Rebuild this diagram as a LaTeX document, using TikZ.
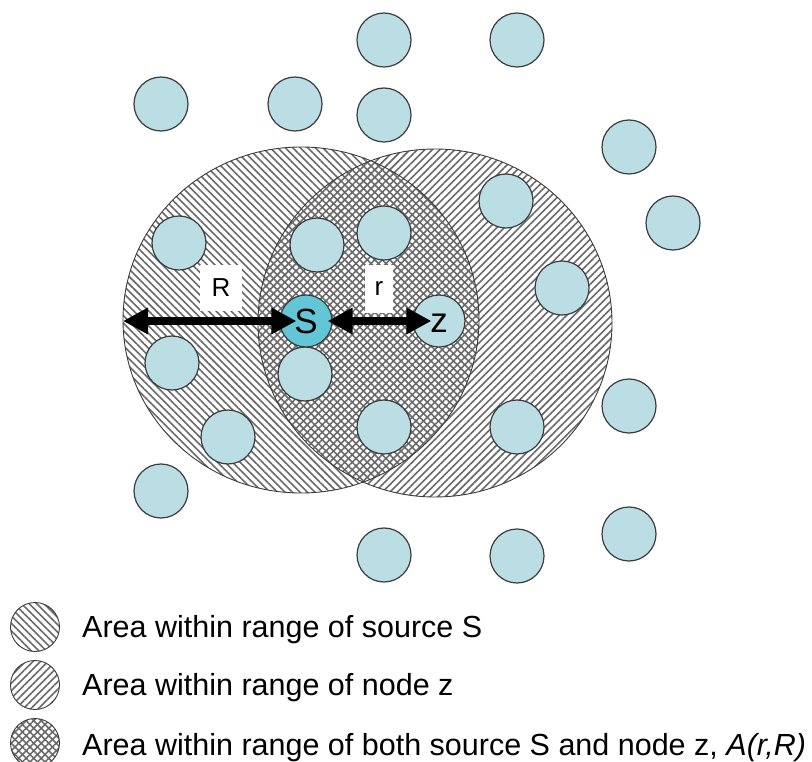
\documentclass[tikz,border=0pt]{standalone}
\usepackage{fontspec}
\setmainfont{Liberation Sans}
\usetikzlibrary{patterns.meta,arrows.meta}
\definecolor{dotfill}{RGB}{186,222,227}
\definecolor{srcfill}{RGB}{98,198,214}
\definecolor{rim}{RGB}{60,60,60}
\definecolor{hatch}{RGB}{105,105,105}
\tikzset{
  dot/.style={circle,draw=rim,line width=1.2pt,fill=dotfill,minimum size=54pt,inner sep=0pt},
  srcdot/.style={dot,fill=srcfill,minimum size=52pt},
  nwhatch/.style={pattern={Lines[angle=-45,distance=5.3pt,line width=1.6pt]},pattern color=hatch},
  nehatch/.style={pattern={Lines[angle=45,distance=5.3pt,line width=1.6pt]},pattern color=hatch},
  rimline/.style={draw=rim,line width=0.9pt},
  bigarrow/.style={line width=7.5pt,{Triangle[length=25pt,width=25pt]}-{Triangle[length=25pt,width=25pt]}},
  lab/.style={font=\fontsize{35}{40}\selectfont,inner sep=0pt},
  rlab/.style={fill=white,font=\fontsize{26}{30}\selectfont,inner sep=0pt},
  legtext/.style={anchor=base west,font=\fontsize{30.5}{36}\selectfont,inner sep=0pt},
}
\begin{document}
\begin{tikzpicture}[x=1pt,y=-1pt]
\useasboundingbox (0,0) rectangle (812,762);
% big range areas
\path[nwhatch] (301,320) ellipse [x radius=178,y radius=173];
\path[nehatch] (435,323) ellipse [x radius=177,y radius=174];
\draw[rimline] (301,320) ellipse [x radius=178,y radius=173];
\draw[rimline] (435,323) ellipse [x radius=177,y radius=174];
% nodes
\node[dot] (n1) at (384,40) {};
\node[dot] (n2) at (517,40) {};
\node[dot] (n3) at (161,104) {};
\node[dot] (n4) at (295,104) {};
\node[dot] (n5) at (384,115) {};
\node[dot] (n6) at (629,147) {};
\node[dot] (n7) at (506,201) {};
\node[dot] (n8) at (673,223) {};
\node[dot] (n9) at (179,243) {};
\node[dot] (n10) at (317,245) {};
\node[dot] (n11) at (384,233) {};
\node[dot] (n12) at (562,288) {};
\node[dot] (n13) at (172,363) {};
\node[dot] (n14) at (305,374) {};
\node[dot] (n15) at (384,427) {};
\node[dot] (n16) at (228,437) {};
\node[dot] (n17) at (517,427) {};
\node[dot] (n18) at (629,406) {};
\node[dot] (n19) at (161,491) {};
\node[dot] (n20) at (384,555) {};
\node[dot] (n21) at (517,556) {};
\node[dot] (n22) at (629,534) {};
\node[srcdot] (S) at (306,321) {};
\node[dot,minimum size=52pt] (z) at (439,321) {};
% distance arrows
\coordinate (Rleft) at (123,321);
\draw[bigarrow] (Rleft) -- ([xshift=17pt]S.west);
\draw[bigarrow] ([xshift=-5pt]S.east) -- ([xshift=19pt]z.west);
\node[lab] (Slab) at (S.center) {S};
\node[lab] (zlab) at ([yshift=-2pt]z.center) {z};
\node[rlab,minimum width=42pt,minimum height=46pt] (Rl) at (221,288) {R};
\node[rlab,minimum width=28pt,minimum height=48pt] (rl) at (379,289) {r};
% legend
\path[nwhatch] (35,627) circle [radius=24.5];
\draw[rimline] (35,627) circle [radius=24.5];
\path[nehatch] (35,685) circle [radius=24.5];
\draw[rimline] (35,685) circle [radius=24.5];
\path[nwhatch] (35,743) circle [radius=24.5];
\path[nehatch] (35,743) circle [radius=24.5];
\draw[rimline] (35,743) circle [radius=24.5];
\node[legtext] (l1) at (82,637) {Area within range of source S};
\node[legtext] (l2) at (82,695) {Area within range of node z};
\node[legtext] (l3) at (82,755) {Area within range of both source S and node z, \textit{A(r,R)}};
\end{tikzpicture}
\end{document}
